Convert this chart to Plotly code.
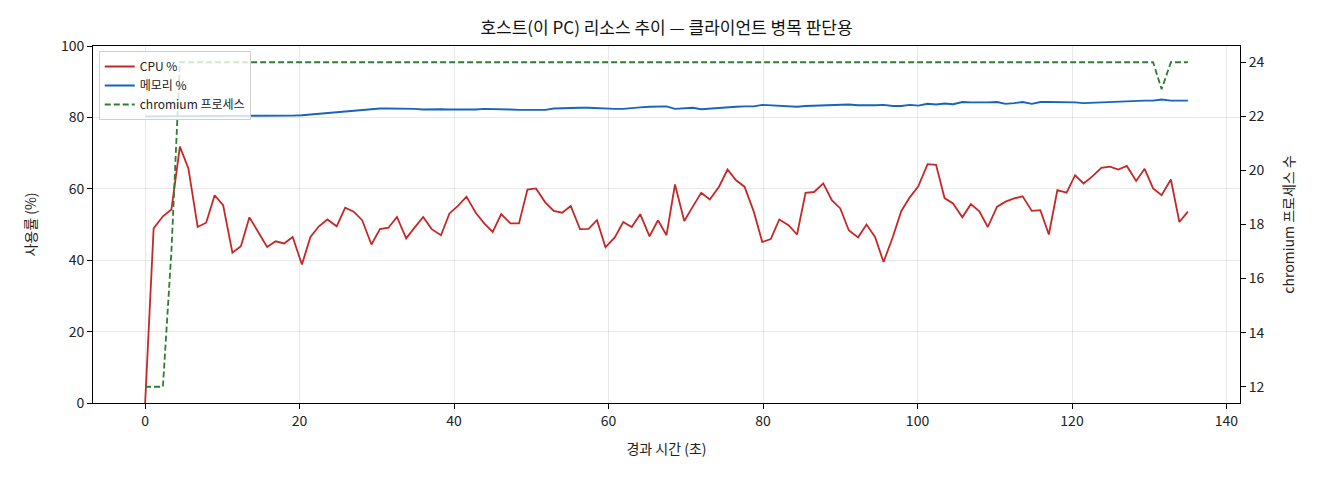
import plotly.graph_objects as go

# elapsed seconds for each sample
elapsed = [
    0.0, 1.1, 2.3, 3.4, 4.5, 5.6, 6.8, 7.9,
    9.0, 10.1, 11.3, 12.4, 13.5, 14.6, 15.8, 16.9,
    18.0, 19.1, 20.3, 21.4, 22.5, 23.6, 24.8, 25.9,
    27.0, 28.1, 29.3, 30.4, 31.5, 32.6, 33.8, 34.9,
    36.0, 37.1, 38.3, 39.4, 40.5, 41.6, 42.8, 43.9,
    45.0, 46.1, 47.3, 48.4, 49.5, 50.6, 51.8, 52.9,
    54.0, 55.1, 56.3, 57.4, 58.5, 59.6, 60.8, 61.9,
    63.0, 64.1, 65.3, 66.4, 67.5, 68.6, 69.8, 70.9,
    72.0, 73.1, 74.3, 75.4, 76.5, 77.6, 78.8, 79.9,
    81.0, 82.1, 83.3, 84.4, 85.5, 86.6, 87.8, 88.9,
    90.0, 91.1, 92.3, 93.4, 94.5, 95.6, 96.8, 97.9,
    99.0, 100.1, 101.3, 102.4, 103.5, 104.6, 105.8, 106.9,
    108.0, 109.1, 110.3, 111.4, 112.5, 113.6, 114.8, 115.9,
    117.0, 118.1, 119.3, 120.4, 121.5, 122.6, 123.8, 124.9,
    126.0, 127.1, 128.3, 129.4, 130.5, 131.6, 132.8, 133.9,
    135.0,
]

cpu_pct = [
    0.0, 48.9, 52.3, 54.2, 71.8, 65.7, 49.3, 50.5, 58.2, 55.4,
    42.1, 43.9, 52.0, 47.9, 43.7, 45.3, 44.7, 46.5, 38.8, 46.5,
    49.5, 51.4, 49.5, 54.7, 53.6, 51.2, 44.4, 48.7, 49.1, 52.1,
    46.1, 49.2, 52.1, 48.7, 47.0, 53.1, 55.2, 57.8, 53.3, 50.3,
    47.9, 52.9, 50.3, 50.3, 59.8, 60.1, 56.2, 53.8, 53.3, 55.2,
    48.7, 48.8, 51.2, 43.6, 46.4, 50.7, 49.3, 52.9, 46.7, 51.2,
    47.0, 61.2, 51.0, 55.0, 58.9, 57.0, 60.6, 65.4, 62.4, 60.6,
    53.6, 45.1, 45.9, 51.4, 49.8, 47.2, 58.9, 59.1, 61.5, 56.8,
    54.5, 48.4, 46.4, 50.0, 46.5, 39.5, 46.5, 53.8, 57.6, 60.7,
    66.9, 66.7, 57.4, 55.9, 52.0, 55.7, 53.7, 49.3, 55.0, 56.4,
    57.3, 57.9, 53.8, 54.0, 47.2, 59.6, 58.9, 63.8, 61.5, 63.4,
    65.9, 66.2, 65.4, 66.4, 62.2, 65.6, 60.1, 58.2, 62.6, 50.7,
    53.6,
]

mem_pct = [
    80.3, 80.3, 80.4, 80.3, 80.4, 80.3, 80.3, 80.4, 80.3, 80.3,
    80.4, 80.3, 80.3, 80.3, 80.3, 80.4, 80.4, 80.5, 80.6, 80.8,
    81.0, 81.2, 81.4, 81.7, 81.9, 82.1, 82.3, 82.5, 82.5, 82.5,
    82.6, 82.4, 82.2, 82.3, 82.3, 82.2, 82.2, 82.0, 82.2, 82.4,
    82.4, 82.3, 82.2, 82.1, 82.1, 82.0, 82.1, 82.5, 82.6, 82.6,
    82.7, 82.7, 82.6, 82.4, 82.4, 82.4, 82.5, 82.8, 83.0, 83.1,
    83.1, 82.4, 82.5, 82.7, 82.3, 82.5, 82.7, 82.9, 83.0, 83.1,
    83.1, 83.5, 83.4, 83.3, 83.2, 83.0, 83.2, 83.3, 83.4, 83.5,
    83.6, 83.6, 83.4, 83.3, 83.4, 83.5, 83.2, 83.2, 83.5, 83.3,
    83.8, 83.6, 83.9, 83.7, 84.3, 84.2, 84.1, 84.2, 84.3, 83.8,
    84.0, 84.3, 83.8, 84.3, 84.3, 84.3, 84.3, 84.2, 84.0, 84.1,
    84.3, 84.4, 84.5, 84.6, 84.7, 84.7, 84.7, 85.0, 84.7, 84.6,
    84.7,
]

chromium_procs = [
    12, 12, 12, 17, 24, 24, 24, 24, 24, 24, 24,
    24, 24, 24, 24, 24, 24, 24, 24, 24, 24, 24,
    24, 24, 24, 24, 24, 24, 24, 24, 24, 24, 24,
    24, 24, 24, 24, 24, 24, 24, 24, 24, 24, 24,
    24, 24, 24, 24, 24, 24, 24, 24, 24, 24, 24,
    24, 24, 24, 24, 24, 24, 24, 24, 24, 24, 24,
    24, 24, 24, 24, 24, 24, 24, 24, 24, 24, 24,
    24, 24, 24, 24, 24, 24, 24, 24, 24, 24, 24,
    24, 24, 24, 24, 24, 24, 24, 24, 24, 24, 24,
    24, 24, 24, 24, 24, 24, 24, 24, 24, 24, 24,
    24, 24, 24, 24, 24, 24, 24, 23, 24, 24, 24,
]

FONT = "Noto Sans CJK KR"
grid_col = "rgba(0,0,0,0.09)"

fig = go.Figure()
fig.add_trace(go.Scatter(x=elapsed, y=cpu_pct, mode="lines", name="CPU %",
                         line=dict(color="#c62828", width=1.8)))
fig.add_trace(go.Scatter(x=elapsed, y=mem_pct, mode="lines", name="메모리 %",
                         line=dict(color="#1565c0", width=1.9)))
fig.add_trace(go.Scatter(x=elapsed, y=chromium_procs, mode="lines", name="chromium 프로세스",
                         yaxis="y2",
                         line=dict(color="#2e7d32", width=1.8, dash="6px,3px")))

# page body adds ~8px offset, margins are compensated for it
fig.update_layout(
    width=1320, height=480,
    margin=dict(l=85, r=88, t=38, b=85),
    paper_bgcolor="white", plot_bgcolor="white",
    font=dict(family=FONT, size=14, color="#222"),
    title=dict(text="호스트(이 PC) 리소스 추이 — 클라이언트 병목 판단용",
               x=0.5, xref="paper", y=1 - 20 / 480, yref="container",
               xanchor="center", yanchor="middle",
               font=dict(size=17, color="#111")),
    showlegend=True,
    legend=dict(x=0.005, y=0.986, xanchor="left", yanchor="top",
                bgcolor="rgba(255,255,255,0.8)", bordercolor="#d0d0d0", borderwidth=1,
                font=dict(size=12), tracegroupgap=0, itemwidth=30),
    xaxis=dict(range=[-6.75, 141.75], tickvals=[0, 20, 40, 60, 80, 100, 120, 140],
               showgrid=True, gridcolor=grid_col, gridwidth=1, zeroline=False,
               showline=True, linecolor="black", linewidth=1, mirror=True,
               ticks="outside", ticklen=5, tickcolor="black",
               title=dict(text="경과 시간 (초)", standoff=15, font=dict(size=14))),
    yaxis=dict(range=[0, 100], tickvals=[0, 20, 40, 60, 80, 100],
               showgrid=True, gridcolor=grid_col, gridwidth=1, zeroline=False,
               showline=True, linecolor="black", linewidth=1, mirror=True,
               ticks="outside", ticklen=5, tickcolor="black",
               title=dict(text="사용률 (%)", standoff=20, font=dict(size=14))),
    yaxis2=dict(range=[11.4, 24.6], tickvals=[12, 14, 16, 18, 20, 22, 24],
                overlaying="y", side="right", showgrid=False, zeroline=False,
                showline=True, linecolor="black", linewidth=1,
                ticks="outside", ticklen=5, tickcolor="black",
                title=dict(text="chromium 프로세스 수", standoff=20, font=dict(size=14))),
)

fig.write_html("out.html")
